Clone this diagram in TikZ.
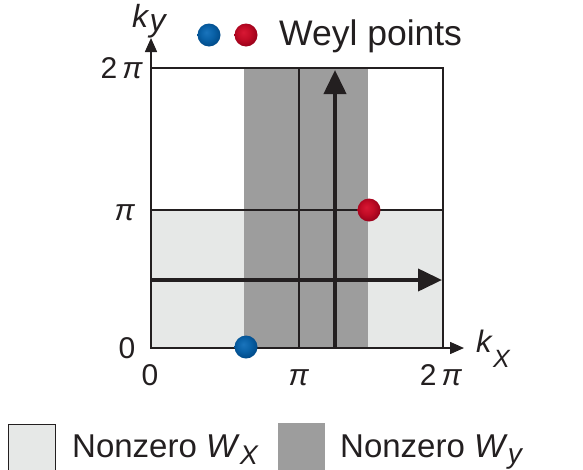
\documentclass[tikz,border=0pt]{standalone}
\usepackage{fontspec}
\setmainfont{Liberation Sans}
\usetikzlibrary{arrows.meta}
\definecolor{lightg}{HTML}{E6E8E7}
\definecolor{darkg}{HTML}{9D9D9D}
\definecolor{ink}{HTML}{231F20}
\definecolor{bluehi}{HTML}{1A74BC}
\definecolor{bluemid}{HTML}{0A62A8}
\definecolor{blueedge}{HTML}{004A88}
\definecolor{redhi}{HTML}{D81834}
\definecolor{redmid}{HTML}{C20C26}
\definecolor{rededge}{HTML}{98001A}
\pgfdeclareradialshading{blueball}{\pgfpoint{-6bp}{6bp}}{color(0bp)=(bluehi); color(14bp)=(bluemid); color(28bp)=(blueedge); color(50bp)=(blueedge)}
\pgfdeclareradialshading{redball}{\pgfpoint{-6bp}{6bp}}{color(0bp)=(redhi); color(14bp)=(redmid); color(28bp)=(rededge); color(50bp)=(rededge)}
\begin{document}
\begin{tikzpicture}[x=1pt,y=-1pt,
  gridline/.style={draw=ink,line width=1.2pt},
  bigarrow/.style={draw=ink,line width=4pt,-{Triangle[length=24pt,width=22pt]}},
  axisarrow/.style={draw=ink,line width=1.5pt,-{Triangle[length=14pt,width=12pt]}},
  lbl/.style={font=\fontsize{30}{30}\selectfont,inner sep=0pt,text=ink},
  leg/.style={font=\fontsize{33}{33}\selectfont,inner sep=0pt,text=ink},
  weyl/.style={circle,minimum size=23pt,inner sep=0pt}]
\useasboundingbox (0,0) rectangle (583,469);
% regions
\fill[lightg] (151,210) rectangle (443,348);
\fill[darkg] (244,68) rectangle (368,348);
% grid lines
\draw[gridline] (151,68) rectangle (443,348);
\draw[gridline] (151,210) -- (443,210);
\draw[gridline] (299,68) -- (299,348);
% coordinates
\coordinate (o) at (151,348);
\coordinate (kyend) at (151,38);
\coordinate (kxend) at (464,348);
\coordinate (vs) at (335,348);
\coordinate (ve) at (335,70);
\coordinate (hs) at (151,280);
\coordinate (he) at (442,280);
% thick arrows
\draw[bigarrow] (vs) -- (ve);
\draw[bigarrow] (hs) -- (he);
% axes
\draw[axisarrow] (o) -- (kyend);
\draw[axisarrow] (o) -- (kxend);
% axis labels
\node[lbl,anchor=base west] (kylbl) at (132,27) {\fontsize{32}{32}\selectfont\textit{k}\raisebox{-4pt}{\textit{y}}};
\node[lbl,anchor=base west] (kxlbl) at (476,352) {\fontsize{31}{31}\selectfont\textit{k}{\fontsize{25}{25}\selectfont\raisebox{-15pt}{\textit{X}}}};
% tick labels
\node[lbl,anchor=base east] (y2pi) at (143,78) {2\,\textit{π}};
\node[lbl,anchor=base] (ypi) at (125,220) {\textit{π}};
\node[lbl,anchor=base] (y0) at (127,358) {0};
\node[lbl,anchor=base] (x0) at (150,385) {0};
\node[lbl,anchor=base] (xpi) at (299,385) {\textit{π}};
\node[lbl,anchor=base] (x2pi) at (441,385) {2\,\textit{π}};
% Weyl points
\node[weyl,shading=blueball] (wb) at (246,347) {};
\node[weyl,shading=redball] (wr) at (369,210) {};
\node[weyl,shading=blueball] (lb) at (209,35) {};
\node[weyl,shading=redball] (lr) at (246,35) {};
\node[leg,anchor=base west,font=\fontsize{35.5}{35.5}\selectfont] (wlbl) at (279,45) {Weyl points};
% legend
\node[draw=ink,line width=1pt,fill=lightg,minimum width=47pt,minimum height=48pt,inner sep=0pt,anchor=north west] (boxx) at (8,424) {};
\node[fill=darkg,minimum width=47pt,minimum height=48pt,inner sep=0pt,anchor=north west] (boxy) at (278,423) {};
\node[leg,anchor=base west] (lx) at (72,457) {Nonzero \textit{W}{\fontsize{27}{27}\selectfont\raisebox{-7pt}{\textit{X}}}};
\node[leg,anchor=base west] (ly) at (340,457) {Nonzero \textit{W}{\fontsize{28}{28}\selectfont\raisebox{-6pt}{\textit{y}}}};
\end{tikzpicture}
\end{document}
